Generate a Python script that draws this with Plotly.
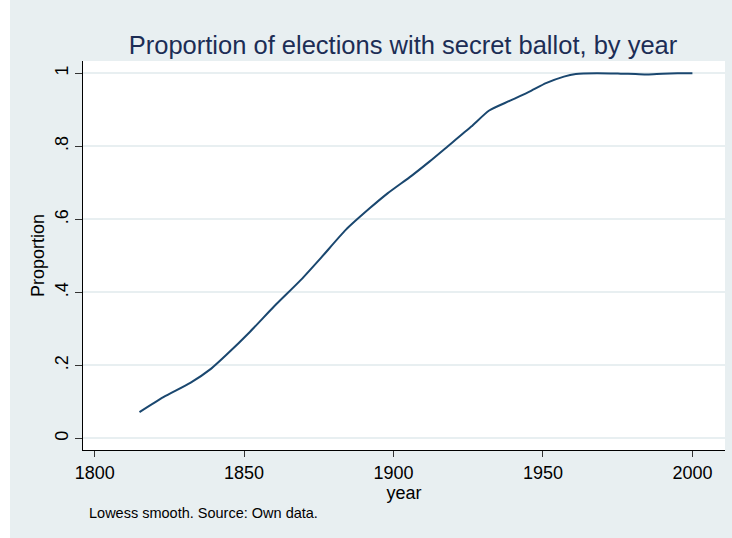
import plotly.graph_objects as go

years = [1815, 1823, 1832, 1839, 1844, 1852, 1860, 1869, 1876, 1884, 1892, 1898,
         1906, 1912, 1918, 1926, 1932, 1939, 1946, 1951, 1957, 1961, 1968, 1976,
         1981, 1985, 1990, 1995, 2000]
proportion = [0.072, 0.113, 0.152, 0.191, 0.228, 0.292, 0.361, 0.434, 0.497, 0.571,
              0.630, 0.671, 0.719, 0.758, 0.799, 0.854, 0.898, 0.925, 0.952, 0.973,
              0.991, 0.998, 1.000, 0.999, 0.998, 0.997, 0.999, 1.000, 1.000]

ytick_vals = [0, 0.2, 0.4, 0.6, 0.8, 1]
ytick_text = ["0", ".2", ".4", ".6", ".8", "1"]
xtick_vals = [1800, 1850, 1900, 1950, 2000]

BG = "#e8eff1"
FONT = "Liberation Sans, Arial, sans-serif"

W, H = 732, 538
L, R, T, B = 83, 7, 61, 88
PW, PH = W - L - R, H - T - B

fig = go.Figure()
fig.add_trace(go.Scatter(x=years, y=proportion, mode="lines",
                         line=dict(color="#1a476f", width=2, shape="spline", smoothing=0.6),
                         showlegend=False, hoverinfo="skip"))

fig.update_layout(
    width=W, height=H,
    margin=dict(l=L, r=R, t=T, b=B),
    paper_bgcolor=BG,
    plot_bgcolor="white",
    font=dict(family=FONT, color="black"),
    title=dict(text="Proportion of elections with secret ballot, by year",
               x=(403 - L) / PW, xanchor="center", xref="paper",
               y=1 - 45 / H, yref="container", yanchor="middle",
               font=dict(size=25.5, color="#1c2d55", family=FONT)),
    xaxis=dict(range=[1796.1, 2010.9], tickvals=xtick_vals,
               ticks="outside", ticklen=6, tickcolor="#333", tickwidth=1,
               showline=True, linecolor="black", linewidth=1, mirror=False,
               showgrid=False, zeroline=False,
               tickfont=dict(size=18, color="black"),
               title=dict(text="year", font=dict(size=18, color="black"), standoff=0)),
    yaxis=dict(range=[-0.032, 1.0337], tickvals=ytick_vals, ticktext=ytick_text,
               tickangle=-90,
               ticks="outside", ticklen=7, tickcolor="#333", tickwidth=1,
               showline=True, linecolor="black", linewidth=1,
               showgrid=True, gridcolor=BG, gridwidth=2, zeroline=False,
               tickfont=dict(size=18, color="black"),
               title=dict(text="Proportion", font=dict(size=18, color="black"), standoff=2)),
    shapes=[
        dict(type="rect", xref="paper", yref="paper", layer="above",
             x0=-L / PW, x1=(W - L) / PW, y0=(H - T - 9) / PH, y1=(H - T) / PH + 0.01,
             fillcolor="white", line=dict(width=0)),
        dict(type="rect", xref="paper", yref="paper", layer="above",
             x0=-L / PW - 0.01, x1=-(L - 10) / PW, y0=-B / PH - 0.01, y1=(H - B) / PH + 0.01,
             fillcolor="white", line=dict(width=0)),
    ],
    annotations=[dict(text="Lowess smooth. Source: Own data.", xref="paper", yref="paper",
                      x=(87 - L) / PW, y=-(513 - (H - B)) / PH, xanchor="left", yanchor="middle",
                      showarrow=False, font=dict(size=14.5, color="black", family=FONT))],
)

fig.write_html("out.html")
